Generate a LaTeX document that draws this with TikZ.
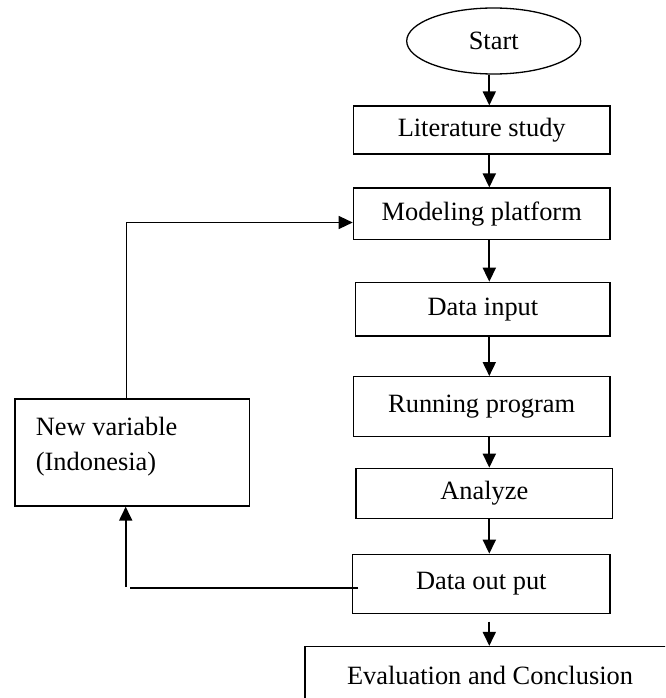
\documentclass[tikz,border=0pt]{standalone}
\usepackage{fontspec}
\setmainfont{Liberation Serif}
\usetikzlibrary{arrows.meta,shapes.geometric}
\begin{document}
\begin{tikzpicture}[x=1pt,y=-1pt,
  every node/.style={font=\fontsize{26.4}{35}\selectfont, inner sep=0pt},
  boxnode/.style={draw, line width=1.3pt, rectangle},
  arr/.style={line width=1.8pt, -{Triangle[length=14pt,width=13pt]}},
  thinline/.style={line width=1.1pt},
  thinarr/.style={line width=1.3pt, -{Triangle[length=14pt,width=13pt]}}]
\clip (0,0) rectangle (665,698);
\fill[white] (0,0) rectangle (665,698);

\node[draw, line width=1.3pt, ellipse, minimum width=174pt, minimum height=66pt] (start) at (493.7,41) {Start};
\node[boxnode, minimum width=256.7pt, minimum height=48pt] (lit) at (481.7,130) {Literature study};
\node[boxnode, minimum width=256.7pt, minimum height=51.3pt] (model) at (481.7,213.7) {Modeling platform};
\node[boxnode, minimum width=254.3pt, minimum height=53.7pt] (din) at (482.9,309.2) {Data input};
\node[boxnode, minimum width=256.7pt, minimum height=60pt] (run) at (481.7,406.7) {Running program};
\node[boxnode, minimum width=256.7pt, minimum height=50pt] (ana) at (484.3,493.3) {Analyze};
\node[boxnode, minimum width=257.3pt, minimum height=59pt] (dout) at (481.3,583.8) {Data out put};
\node[boxnode, minimum width=370pt, minimum height=57pt] (eval) at (490,675) {Evaluation and Conclusion};
\node[boxnode, minimum width=234.3pt, minimum height=107pt] (newvar) at (132.2,452.5) {};
\node[anchor=west, align=left] (newvartext) at (35.7,446.4) {New variable\\(Indonesia)};

\coordinate (ax) at (489.3,0);
\draw[arr] (start.south -| ax) -- (lit.north -| ax);
\draw[arr] (lit.south -| ax) -- (model.north -| ax);
\draw[arr] (model.south -| ax) -- (din.north -| ax);
\draw[arr] (din.south -| ax) -- (run.north -| ax);
\draw[arr] (run.south -| ax) -- (ana.north -| ax);
\draw[arr] (ana.south -| ax) -- (dout.north -| ax);
\coordinate (ev0) at (489.3,621.7);
\draw[arr] (ev0) -- (eval.north -| ax);

% feedback
\coordinate (fb0) at (358,588);
\coordinate (fb1) at (130,588);
\coordinate (fb2) at (125.7,587);
\coordinate (fb3) at (126.7,222.5);
\draw[thinline] (fb0) -- (fb1);
\draw[arr] (fb2) -- (newvar.south -| fb2);
\draw[thinarr] (newvar.north -| fb3) |- (model.west |- fb3);
\end{tikzpicture}
\end{document}
